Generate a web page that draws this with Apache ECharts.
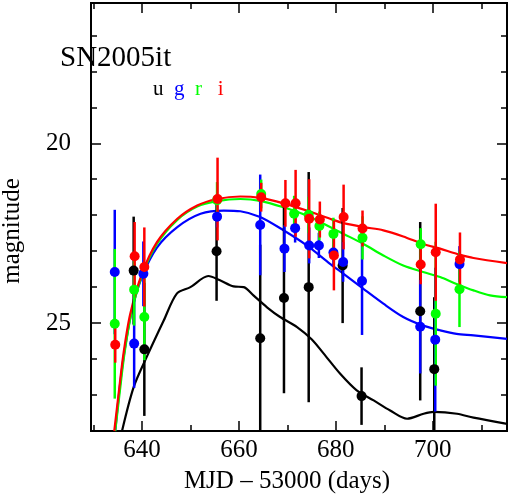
<!DOCTYPE html>
<html>
<head>
<meta charset="utf-8">
<script src="https://cdn.jsdelivr.net/npm/echarts@6/dist/echarts.min.js"></script>
<style>
html, body { margin: 0; padding: 0; background: #fff; }
#chart { width: 509px; height: 494px; }
</style>
</head>
<body>
<div id="chart"></div>
<script>
// photometry: MJD - 53000, magnitude, error
const uDays = [638.3, 640.5, 655.4, 664.4, 669.3, 674.4, 681.4, 685.3, 697.4, 700.3]
const uMag = [23.54, 25.73, 23.0, 25.42, 24.3, 24.0, 23.4, 27.03, 24.67, 26.28]
const uErr = [1.5, 1.85, 1.38, 2.6, 2.65, 3.2, 1.6, 0.8, 2.48, 2.0]

const gDays = [634.4, 638.4, 640.3, 655.5, 664.4, 669.4, 671.6, 674.5, 676.5, 679.5, 681.5, 685.4, 697.4, 700.5, 705.5]
const gMag = [23.58, 25.57, 23.63, 22.04, 22.27, 22.93, 22.36, 22.84, 22.84, 23.04, 23.3, 23.83, 25.1, 25.46, 23.36]
const gErr = [1.73, 1.23, 0.9, 0.3, 1.4, 0.65, 0.4, 0.5, 0.35, 0.4, 0.55, 1.5, 1.3, 2.0, 0.5]

const rDays = [634.4, 638.4, 640.5, 655.5, 664.6, 671.4, 674.4, 676.6, 679.5, 685.5, 697.5, 700.6, 705.5]
const rMag = [25.02, 24.07, 24.83, 21.58, 21.41, 21.96, 21.99, 22.3, 22.52, 22.63, 22.81, 24.74, 24.06]
const rErr = [2.08, 1.0, 1.2, 0.5, 0.4, 0.5, 0.5, 0.4, 0.45, 0.6, 0.45, 2.0, 1.05]

const iDays = [634.5, 638.5, 640.5, 655.6, 664.6, 669.6, 671.7, 674.5, 676.7, 679.6, 681.6, 685.5, 697.5, 700.6, 705.6]
const iMag = [25.6, 23.14, 23.44, 21.55, 21.5, 21.67, 21.67, 22.1, 22.12, 23.12, 22.05, 22.37, 23.37, 23.03, 23.23]
const iErr = [0.5, 0.95, 1.1, 1.15, 0.4, 0.65, 0.93, 1.1, 0.5, 0.97, 0.9, 0.5, 0.55, 1.35, 0.75]

// model light curves
const uModelDays = [635.9, 638.3, 641.0, 644.5, 647.2, 650.0, 653.7, 656.1, 658.9, 661.0, 663.0, 665.8, 668.5, 672.0, 675.0, 677.5, 680.9, 684.3, 687.8, 691.2, 694.7, 698.1, 700.2, 705.0, 708.4, 715.3]
const uModelMag = [28.0, 26.78, 25.94, 24.93, 24.18, 24.0, 23.69, 23.81, 23.98, 24.0, 24.23, 24.56, 24.83, 25.11, 25.45, 25.85, 26.41, 26.87, 27.15, 27.43, 27.66, 27.52, 27.47, 27.52, 27.63, 27.8]

const gModelDays = [634.5, 635.5, 636.5, 638.0, 640.0, 643.1, 647.3, 652.1, 656.9, 660.3, 664.4, 669.2, 674.0, 678.8, 681.6, 685.7, 689.8, 693.9, 698.0, 701.5, 704.9, 708.4, 715.3]
const gModelMag = [28.0, 26.7, 25.7, 24.6, 23.72, 22.9, 22.33, 21.96, 21.87, 21.89, 22.05, 22.42, 22.84, 23.35, 23.63, 24.05, 24.46, 24.83, 25.07, 25.2, 25.3, 25.34, 25.44]

const rModelDays = [634.5, 635.4, 636.4, 637.8, 640.0, 643.1, 647.3, 651.4, 655.5, 660.3, 664.4, 669.2, 674.0, 678.8, 681.6, 685.7, 689.8, 693.9, 698.0, 701.5, 704.9, 708.4, 711.8, 715.3]
const rModelMag = [28.0, 26.95, 25.85, 24.75, 23.68, 22.8, 22.13, 21.76, 21.61, 21.55, 21.6, 21.78, 22.01, 22.33, 22.52, 22.8, 23.12, 23.4, 23.58, 23.72, 23.91, 24.09, 24.23, 24.28]

const iModelDays = [634.3, 635.2, 636.2, 637.6, 640.0, 643.1, 647.3, 651.4, 655.5, 660.3, 664.4, 669.2, 674.0, 678.8, 681.6, 685.7, 689.8, 693.9, 698.0, 701.5, 704.9, 708.4, 715.3]
const iModelMag = [28.0, 26.96, 25.85, 24.74, 23.63, 22.75, 22.1, 21.73, 21.55, 21.48, 21.52, 21.67, 21.87, 22.1, 22.22, 22.33, 22.42, 22.59, 22.8, 22.93, 23.07, 23.19, 23.33]

// tick spacing (major / minor) and axis ranges
const xRange = [629.5, 715.3]
const yRange = [16.1, 28]
const xMajorStep = 20
const xMinorStep = 10
const yMajorStep = 5
const yMinorStep = 1

const font = 'Liberation Serif'
const chart = echarts.init(document.getElementById('chart'))

function zip(a, b) {
  return a.map((v, i) => [v, b[i]])
}

// step is forced through min/maxInterval so ticks land on multiples of it
function xAxisPart(position, step, length, withLabel) {
  return {
    type: 'value',
    position: position,
    min: xRange[0],
    max: xRange[1],
    minInterval: step,
    maxInterval: step,
    splitNumber: 8,
    splitLine: { show: false },
    axisLine: { show: true, lineStyle: { color: '#000', width: 2 } },
    axisTick: { show: true, inside: true, length: length, lineStyle: { color: '#000', width: 1.5 } },
    axisLabel: withLabel
      ? {
          show: true,
          margin: 7,
          color: '#000',
          fontFamily: font,
          fontSize: 25,
          showMinLabel: false,
          showMaxLabel: false,
          formatter: (v) => (v % xMajorStep === 0 ? String(v) : '')
        }
      : { show: false },
    name: withLabel ? 'MJD – 53000 (days)' : '',
    nameLocation: 'middle',
    nameGap: 38,
    nameTextStyle: { color: '#000', fontFamily: font, fontSize: 25, padding: [0, 24, 0, 0] }
  }
}

function yAxisPart(position, step, length, withLabel) {
  return {
    type: 'value',
    position: position,
    inverse: true,
    min: yRange[0],
    max: yRange[1],
    minInterval: step,
    maxInterval: step,
    splitNumber: 12,
    splitLine: { show: false },
    axisLine: { show: true, lineStyle: { color: '#000', width: 2 } },
    axisTick: { show: true, inside: true, length: length, lineStyle: { color: '#000', width: 1.5 } },
    axisLabel: withLabel
      ? {
          show: true,
          margin: 20,
          color: '#000',
          fontFamily: font,
          fontSize: 25,
          showMinLabel: false,
          showMaxLabel: false,
          formatter: (v) => (v % yMajorStep === 0 ? String(v) : '')
        }
      : { show: false },
    name: withLabel ? 'magnitude' : '',
    nameLocation: 'middle',
    nameRotate: 90,
    nameGap: 66,
    nameTextStyle: { color: '#000', fontFamily: font, fontSize: 25, padding: [0, 28, 0, 0] }
  }
}

function errorBars(days, mags, errs, color) {
  return {
    type: 'custom',
    clip: true,
    z: 3,
    data: days.map((d, i) => [d, mags[i] - errs[i], mags[i] + errs[i]]),
    encode: { x: 0, y: [1, 2] },
    renderItem: function (params, api) {
      const top = api.coord([api.value(0), api.value(1)])
      const bottom = api.coord([api.value(0), api.value(2)])
      return {
        type: 'line',
        shape: { x1: top[0], y1: top[1], x2: bottom[0], y2: bottom[1] },
        style: { stroke: color, lineWidth: 2.5 }
      }
    }
  }
}

function dots(days, mags, color) {
  return {
    type: 'scatter',
    z: 4,
    symbol: 'circle',
    symbolSize: 10,
    itemStyle: { color: color, opacity: 1 },
    data: zip(days, mags)
  }
}

function model(days, mags, color) {
  return {
    type: 'line',
    z: 2,
    smooth: 0.3,
    showSymbol: false,
    clip: true,
    lineStyle: { color: color, width: 2.2 },
    data: zip(days, mags)
  }
}

const colors = { u: '#000000', g: '#0000ff', r: '#00ff00', i: '#ff0000' }

chart.setOption({
  animation: false,
  backgroundColor: '#fff',
  title: [
    {
      text: 'SN2005it',
      left: 60,
      top: 44,
      padding: 0,
      textStyle: { color: '#000', fontFamily: font, fontSize: 29, fontWeight: 'normal' }
    },
    {
      text: '{u|u}  {g|g}  {r|r}   {i|i}',
      left: 153,
      top: 79,
      padding: 0,
      textStyle: {
        fontFamily: font,
        fontSize: 21,
        fontWeight: 'normal',
        rich: {
          u: { color: colors.u, fontFamily: font, fontSize: 21 },
          g: { color: colors.g, fontFamily: font, fontSize: 21 },
          r: { color: colors.r, fontFamily: font, fontSize: 21 },
          i: { color: colors.i, fontFamily: font, fontSize: 21 }
        }
      }
    }
  ],
  grid: { left: 91, right: 2, top: 3, bottom: 63, containLabel: false, outerBoundsMode: 'none' },
  xAxis: [
    xAxisPart('bottom', xMajorStep, 10, true),
    xAxisPart('bottom', xMinorStep, 6, false),
    xAxisPart('top', xMajorStep, 10, false),
    xAxisPart('top', xMinorStep, 6, false)
  ],
  yAxis: [
    yAxisPart('left', yMajorStep, 10, true),
    yAxisPart('left', yMinorStep, 6, false),
    yAxisPart('right', yMajorStep, 10, false),
    yAxisPart('right', yMinorStep, 6, false)
  ],
  series: [
    model(uModelDays, uModelMag, colors.u),
    model(gModelDays, gModelMag, colors.g),
    model(rModelDays, rModelMag, colors.r),
    model(iModelDays, iModelMag, colors.i),
    errorBars(uDays, uMag, uErr, colors.u),
    errorBars(gDays, gMag, gErr, colors.g),
    errorBars(rDays, rMag, rErr, colors.r),
    errorBars(iDays, iMag, iErr, colors.i),
    dots(uDays, uMag, colors.u),
    dots(gDays, gMag, colors.g),
    dots(rDays, rMag, colors.r),
    dots(iDays, iMag, colors.i)
  ]
})
</script>
</body>
</html>
